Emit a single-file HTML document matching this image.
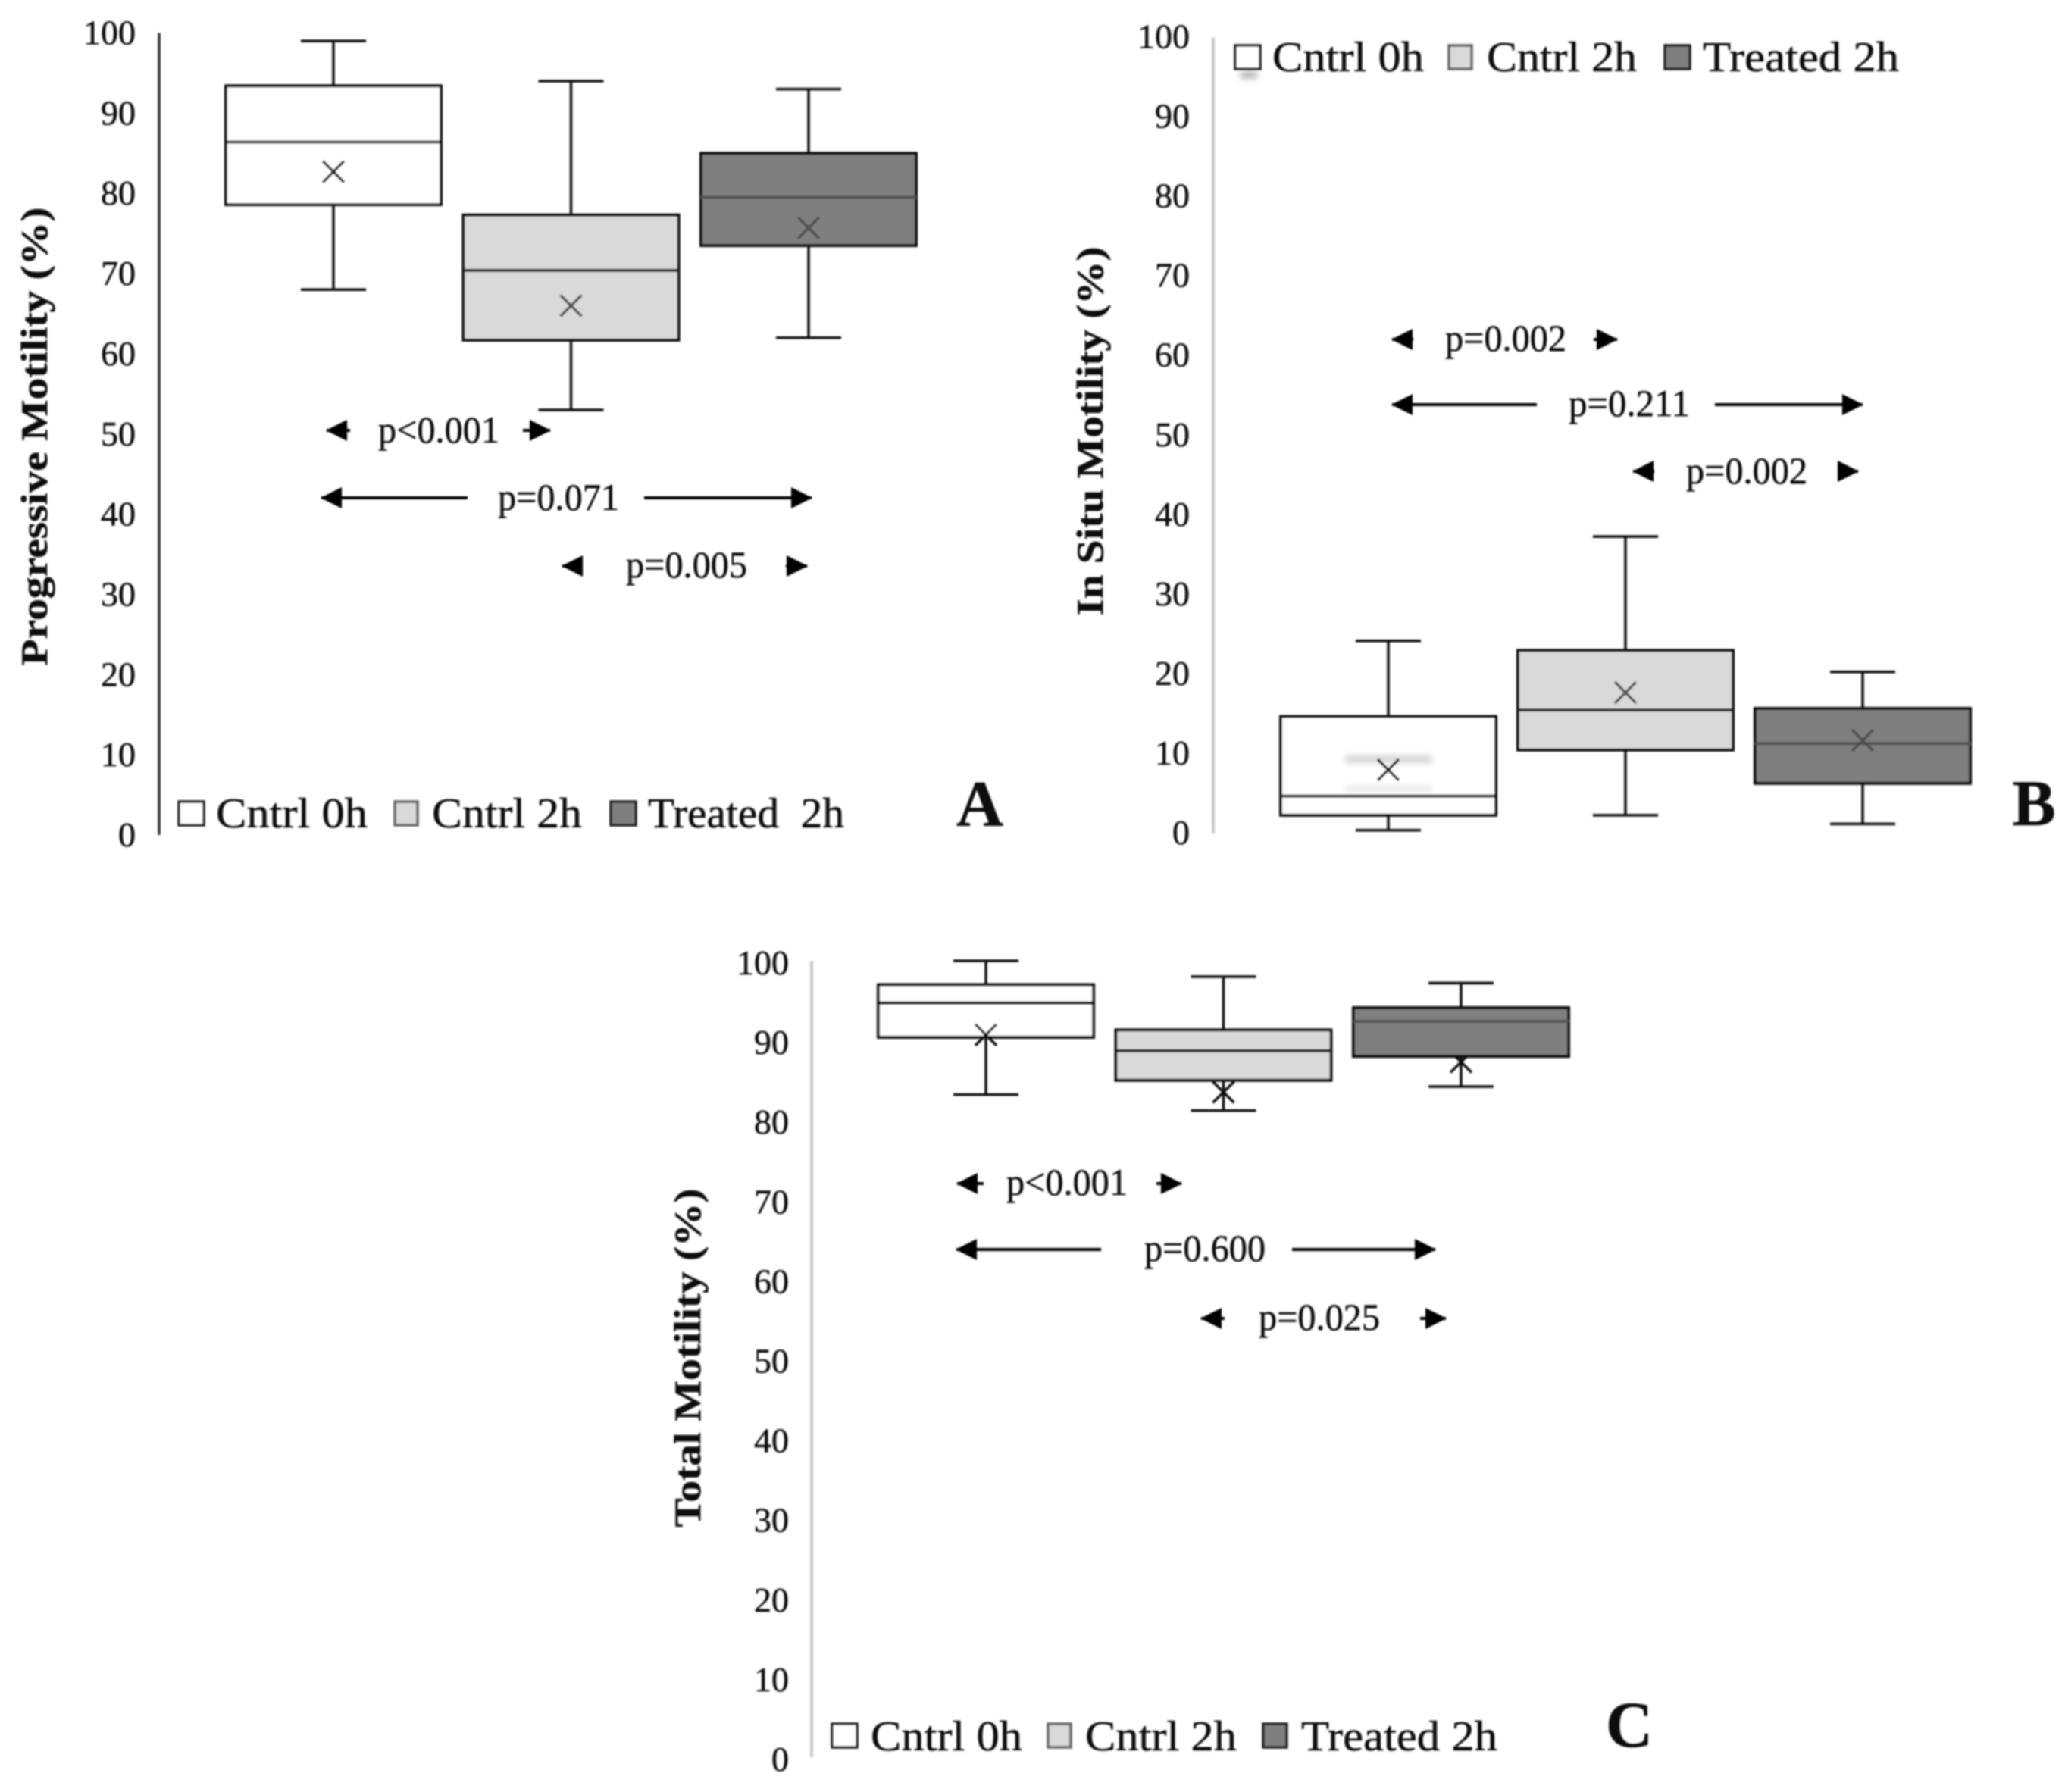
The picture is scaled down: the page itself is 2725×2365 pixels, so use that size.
<!DOCTYPE html>
<html lang="en">
<head>
<meta charset="utf-8">
<title>Sperm motility box plots</title>
<style>
html,body{margin:0;padding:0;background:#fff;}
svg{display:block;}
text{font-family:"Liberation Serif",serif;fill:#111;stroke:#111;stroke-width:0.5;}
.tick{font-size:46px;text-anchor:end;}
.ptext{font-size:50px;text-anchor:middle;}
.leg{font-size:56px;}
.ytitle{font-size:50px;font-weight:bold;text-anchor:middle;}
.letter{font-size:86px;font-weight:bold;text-anchor:middle;}
.arrow{stroke:#000;stroke-width:4;marker-end:url(#head);}
.sw{stroke:#222;stroke-width:3.5;}
.smudge{mix-blend-mode:multiply;}
</style>
</head>
<body>
<svg xmlns="http://www.w3.org/2000/svg" width="2725" height="2365" viewBox="0 0 2725 2365">
<defs>
<filter id="soft" x="-2%" y="-2%" width="104%" height="104%"><feGaussianBlur stdDeviation="1"/></filter>
<filter id="smear" x="-30%" y="-300%" width="160%" height="700%"><feGaussianBlur stdDeviation="4"/></filter>
<marker id="head" markerUnits="userSpaceOnUse" markerWidth="32" markerHeight="32" refX="27" refY="16" orient="auto"><polygon points="0,2 28,16 0,30" fill="#000"/></marker>
</defs>
<rect width="2725" height="2365" fill="#fff"/>
<g id="root" filter="url(#soft)">

<g id="panel-a">
<text class="ytitle" transform="translate(62,576) rotate(-90)" textLength="605" lengthAdjust="spacingAndGlyphs">Progressive Motility (%)</text>
<line class="arrow" x1="462" y1="568" x2="431" y2="568"/>
<text class="ptext" x="579" y="584" textLength="160" lengthAdjust="spacingAndGlyphs">p&lt;0.001</text>
<line class="arrow" x1="690" y1="568" x2="726" y2="568"/>
<line class="arrow" x1="617" y1="657" x2="424" y2="657"/>
<text class="ptext" x="737" y="673" textLength="160" lengthAdjust="spacingAndGlyphs">p=0.071</text>
<line class="arrow" x1="850" y1="657" x2="1071" y2="657"/>
<line class="arrow" x1="768" y1="747" x2="742" y2="747"/>
<text class="ptext" x="906" y="762" textLength="160" lengthAdjust="spacingAndGlyphs">p=0.005</text>
<line class="arrow" x1="1037" y1="747" x2="1065" y2="747"/>
<rect class="sw" x="236" y="1058" width="33" height="31" fill="#fff"/>
<text class="leg" x="285" y="1092" textLength="200" lengthAdjust="spacingAndGlyphs">Cntrl 0h</text>
<rect class="sw" x="521" y="1058" width="30" height="31" fill="#d9d9d9" stroke-opacity="0.7"/>
<text class="leg" x="570" y="1092" textLength="198" lengthAdjust="spacingAndGlyphs">Cntrl 2h</text>
<rect class="sw" x="806" y="1058" width="33" height="31" fill="#7f7f7f"/>
<text class="leg" x="855" y="1092" textLength="259" lengthAdjust="spacingAndGlyphs" xml:space="preserve">Treated  2h</text>
<text class="letter" x="1293" y="1090">A</text>
</g>

<g id="panel-b">
<text class="ytitle" transform="translate(1455,569) rotate(-90)" textLength="487" lengthAdjust="spacingAndGlyphs">In Situ Motility (%)</text>
<line class="arrow" x1="1865" y1="448" x2="1837" y2="448"/>
<text class="ptext" x="1987" y="463" textLength="160" lengthAdjust="spacingAndGlyphs">p=0.002</text>
<line class="arrow" x1="2103" y1="448" x2="2134" y2="448"/>
<line class="arrow" x1="2028" y1="534" x2="1837" y2="534"/>
<text class="ptext" x="2150" y="549" textLength="160" lengthAdjust="spacingAndGlyphs">p=0.211</text>
<line class="arrow" x1="2263" y1="534" x2="2458" y2="534"/>
<line class="arrow" x1="2183" y1="622" x2="2155" y2="622"/>
<text class="ptext" x="2305" y="638" textLength="160" lengthAdjust="spacingAndGlyphs">p=0.002</text>
<line class="arrow" x1="2426" y1="622" x2="2452" y2="622"/>
<rect class="sw" x="1630" y="60" width="33" height="31" fill="#fff"/>
<text class="leg" x="1679" y="94" textLength="200" lengthAdjust="spacingAndGlyphs">Cntrl 0h</text>
<rect class="sw" x="1912" y="60" width="30" height="31" fill="#d9d9d9" stroke-opacity="0.7"/>
<text class="leg" x="1962" y="94" textLength="198" lengthAdjust="spacingAndGlyphs">Cntrl 2h</text>
<rect class="sw" x="2197" y="60" width="33" height="31" fill="#7f7f7f"/>
<text class="leg" x="2247" y="94" textLength="259" lengthAdjust="spacingAndGlyphs">Treated 2h</text>
<text class="letter" x="2684" y="1089">B</text>
</g>

<g id="panel-c">
<text class="ytitle" transform="translate(924,1792) rotate(-90)" textLength="447" lengthAdjust="spacingAndGlyphs">Total Motility (%)</text>
<line class="arrow" x1="1298" y1="1562" x2="1263" y2="1562"/>
<text class="ptext" x="1408" y="1577" textLength="160" lengthAdjust="spacingAndGlyphs">p&lt;0.001</text>
<line class="arrow" x1="1526" y1="1562" x2="1559" y2="1562"/>
<line class="arrow" x1="1453" y1="1649" x2="1262" y2="1649"/>
<text class="ptext" x="1590" y="1664" textLength="160" lengthAdjust="spacingAndGlyphs">p=0.600</text>
<line class="arrow" x1="1705" y1="1649" x2="1894" y2="1649"/>
<line class="arrow" x1="1616" y1="1740" x2="1585" y2="1740"/>
<text class="ptext" x="1741" y="1755" textLength="160" lengthAdjust="spacingAndGlyphs">p=0.025</text>
<line class="arrow" x1="1874" y1="1740" x2="1908" y2="1740"/>
<rect class="sw" x="1098" y="2275" width="33" height="31" fill="#fff"/>
<text class="leg" x="1149" y="2310" textLength="200" lengthAdjust="spacingAndGlyphs">Cntrl 0h</text>
<rect class="sw" x="1383" y="2275" width="30" height="31" fill="#d9d9d9" stroke-opacity="0.7"/>
<text class="leg" x="1432" y="2310" textLength="200" lengthAdjust="spacingAndGlyphs">Cntrl 2h</text>
<rect class="sw" x="1667" y="2275" width="31" height="31" fill="#7f7f7f"/>
<text class="leg" x="1717" y="2310" textLength="259" lengthAdjust="spacingAndGlyphs">Treated 2h</text>
<text class="letter" x="2150" y="2305">C</text>
</g>

<g id="smears">
<rect class="smudge" x="1637" y="95" width="22" height="8" fill="#aaa" filter="url(#smear)"/>
<rect class="smudge" x="1775" y="997" width="115" height="10" fill="#d4d4d4" filter="url(#smear)"/>
<rect class="smudge" x="1775" y="1038" width="115" height="5" fill="#ddd" filter="url(#smear)"/>
</g>
</g>
</svg>

<script>
const categories = ['Cntrl 0h', 'Cntrl 2h', 'Treated 2h'];
const tickLabels = [0, 10, 20, 30, 40, 50, 60, 70, 80, 90, 100];

const aWhiskerHigh = [99, 94, 93];
const aQ3 = [93.4, 77.3, 85];
const aMedian = [86.4, 70.4, 79.5];
const aQ1 = [78.6, 61.7, 73.5];
const aWhiskerLow = [68, 53, 62];
const aMean = [82.7, 66, 75.7];

const bWhiskerHigh = [24.2, 37.3, 20.3];
const bQ3 = [14.7, 23, 15.7];
const bMedian = [4.7, 15.5, 11.3];
const bQ1 = [2.3, 10.5, 6.3];
const bWhiskerLow = [0.4, 2.3, 1.2];
const bMean = [8, 17.7, 11.7];

const cWhiskerHigh = [100, 98, 97.2];
const cQ3 = [97, 91.3, 94.1];
const cMedian = [94.7, 88.7, 92.4];
const cQ1 = [90.4, 85, 88];
const cWhiskerLow = [83.2, 81.2, 84.2];
const cMean = [90.7, 83.5, 87.3];

const NS = 'http://www.w3.org/2000/svg';
const fills = ['#ffffff', '#d9d9d9', '#7f7f7f'];
const medianColors = ['#000', '#222', '#555'];

function shape(parent, tag, props) {
  const el = document.createElementNS(NS, tag);
  for (const k in props) el.setAttribute(k, props[k]);
  parent.appendChild(el);
  return el;
}

function drawPanel(id, letter, layout, s) {
  const host = document.getElementById(id);
  const y = v => layout.y0 + (layout.y100 - layout.y0) * v / 100;
  const x = i => layout.boxLeft + layout.step * i;
  const axis = shape(host, 'line', {x1: layout.axisX, x2: layout.axisX, y1: y(100), y2: y(0), stroke: layout.axisColor, 'stroke-width': layout.axisWidth});
  
  
  tickLabels.forEach(t => {
    const label = shape(host, 'text', {class: 'tick', x: layout.tickX, y: y(t) + layout.tickShift});
    label.textContent = t;
    
    
  });
  categories.forEach((cat, i) => {
    const slug = letter + '-' + cat.toLowerCase().replace(/\s+/g, '-');
    const left = x(i);
    const cx = left + layout.boxWidth / 2;
    const g = shape(host, 'g', {});
    
    
    const stem = shape(g, 'line', {x1: cx, x2: cx, y1: y(s.high[i]), y2: y(s.low[i]), stroke: '#111', 'stroke-width': 3.5});
    
    
    [s.high[i], s.low[i]].forEach(v => {
      const cap = shape(g, 'line', {x1: cx - 43, x2: cx + 43, y1: y(v), y2: y(v), stroke: '#111', 'stroke-width': 3.5});
      
      
    });
    const my = y(s.mean[i]);
    const meanColor = letter === 'c' || i === 0 ? '#111' : '#4d4d4d';
    const mean = shape(g, 'path', {d: `M${cx - 14} ${my - 14}L${cx + 14} ${my + 14}M${cx - 14} ${my + 14}L${cx + 14} ${my - 14}`, stroke: meanColor, 'stroke-width': 3.5, fill: 'none'});
    
    
    const box = shape(g, 'rect', {x: left, y: y(s.q3[i]), width: layout.boxWidth, height: y(s.q1[i]) - y(s.q3[i]), fill: fills[i], stroke: '#111', 'stroke-width': 4});
    
    
    const med = shape(g, 'line', {x1: left, x2: left + layout.boxWidth, y1: y(s.median[i]), y2: y(s.median[i]), stroke: medianColors[i], 'stroke-width': 4});
    
    
    if (!(letter === 'c' && i === 2)) g.appendChild(mean);
  });
}

drawPanel('panel-a', 'a',
  {y0: 1102, y100: 43.5, tickShift: 15, axisX: 210, tickX: 179, boxLeft: 298, step: 313.5, boxWidth: 284, axisColor: '#333', axisWidth: 3.5},
  {high: aWhiskerHigh, q3: aQ3, median: aMedian, q1: aQ1, low: aWhiskerLow, mean: aMean});
drawPanel('panel-b', 'b',
  {y0: 1100, y100: 49.5, tickShift: 14, axisX: 1601, tickX: 1570, boxLeft: 1690, step: 313, boxWidth: 284, axisColor: '#c8c8c8', axisWidth: 4},
  {high: bWhiskerHigh, q3: bQ3, median: bMedian, q1: bQ1, low: bWhiskerLow, mean: bMean});
drawPanel('panel-c', 'c',
  {y0: 2319, y100: 1268, tickShift: 18, axisX: 1071, tickX: 1041, boxLeft: 1159, step: 313.5, boxWidth: 284, axisColor: '#c8c8c8', axisWidth: 4},
  {high: cWhiskerHigh, q3: cQ3, median: cMedian, q1: cQ1, low: cWhiskerLow, mean: cMean});
</script>
</body>
</html>
